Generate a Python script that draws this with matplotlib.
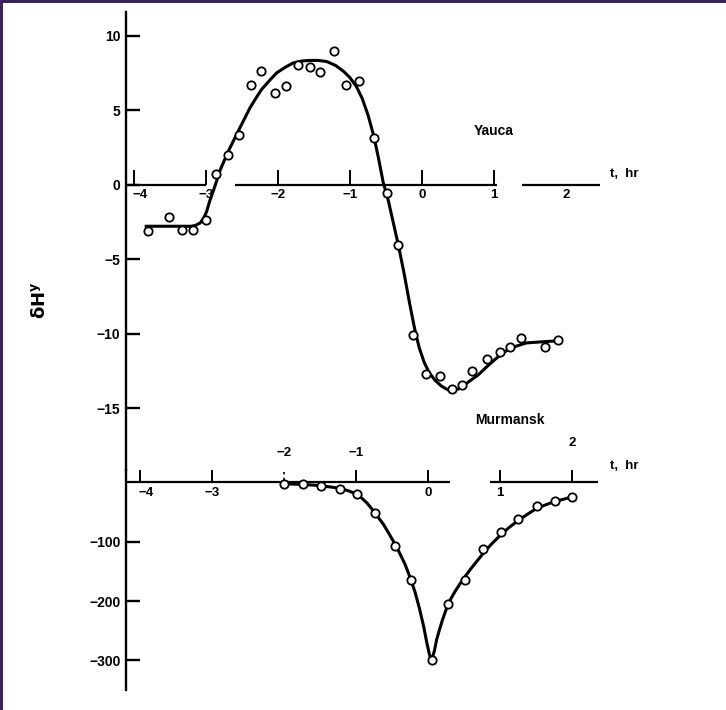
import matplotlib.pyplot as plt
from matplotlib.patches import Rectangle

W, H = 726, 710

# Yauca: observed points and drawn curve (t in hours, dH in gamma)
yauca_t = [-3.80, -3.51, -3.34, -3.18, -3.00, -2.86, -2.69, -2.54, -2.37, -2.23, -2.04,
           -1.89, -1.72, -1.56, -1.42, -1.22, -1.05, -0.88, -0.67, -0.49, -0.33, -0.13,
           0.06, 0.25, 0.41, 0.55, 0.69, 0.90, 1.08, 1.22, 1.38, 1.71, 1.89]
yauca_v = [-3.07, -2.17, -3.0, -3.0, -2.33, 0.74, 2.03, 3.38, 6.69, 7.67, 6.17,
           6.62, 8.07, 7.9, 7.58, 9.01, 6.73, 6.96, 3.13, -0.54, -4.0, -10.1,
           -12.7, -12.8, -13.7, -13.4, -12.5, -11.7, -11.2, -10.9, -10.3, -10.9, -10.4]
yauca_curve_t = [-3.83, -3.21, -3.15, -3.08, -3.03, -2.99, -2.95, -2.90, -2.85, -2.81, -2.75,
                 -2.69, -2.61, -2.53, -2.46, -2.39, -2.31, -2.23, -2.12, -2.02, -1.90, -1.79,
                 -1.67, -1.56, -1.44, -1.32, -1.20, -1.09, -1.00, -0.91, -0.83, -0.75, -0.67,
                 -0.60, -0.54, -0.47, -0.40, -0.33, -0.25, -0.17, -0.10, -0.04, 0.03, 0.10,
                 0.18, 0.27, 0.36, 0.45, 0.55, 0.65, 0.78, 0.90, 1.04, 1.18, 1.32, 1.45,
                 1.60, 1.75, 1.92]
yauca_curve_v = [-2.77, -2.77, -2.72, -2.55, -2.2, -1.77, -1.1, -0.42, 0.3, 0.92, 1.6,
                 2.26, 3.05, 3.83, 4.5, 5.17, 5.8, 6.4, 7.0, 7.52, 7.9, 8.19,
                 8.32, 8.36, 8.36, 8.28, 8.02, 7.63, 7.2, 6.6, 5.8, 4.7, 3.3,
                 1.7, 0.2, -1.0, -2.5, -4.0, -5.9, -8.0, -9.7, -10.9, -11.9, -12.6,
                 -13.1, -13.5, -13.75, -13.8, -13.6, -13.2, -12.75, -12.2, -11.6, -11.1, -10.8, -10.6,
                 -10.55, -10.5, -10.45]

# Murmansk
murm_t = [-2.0, -1.73, -1.48, -1.22, -0.99, -0.74, -0.46, -0.23, 0.05, 0.28, 0.51,
          0.77, 1.02, 1.25, 1.51, 1.76, 2.0]
murm_v = [-3, -4, -6, -12, -20, -52, -108, -165, -300, -205, -165,
          -112, -84, -62, -40, -32, -25]
murm_curve_t = [-2.0, -1.75, -1.5, -1.25, -1.1, -1.0, -0.92, -0.85, -0.78, -0.7, -0.62,
                -0.55, -0.47, -0.4, -0.32, -0.25, -0.18, -0.12, -0.06, -0.02, 0.02, 0.05,
                0.09, 0.12, 0.16, 0.2, 0.25, 0.3, 0.37, 0.45, 0.52, 0.6, 0.7, 0.8, 0.9,
                1.0, 1.12, 1.25, 1.37, 1.5, 1.62, 1.75, 1.88, 2.0]
murm_curve_v = [-3, -4, -6, -10, -15, -20, -27, -35, -45, -58, -71,
                -85, -102, -118, -138, -160, -185, -212, -243, -268, -290, -300,
                -283, -265, -248, -232, -215, -200, -185, -170, -158, -145, -130, -115, -102,
                -90, -77, -65, -55, -45, -39, -33, -29, -25]

yauca_yticks = [10, 5, 0, -5, -10, -15]
murm_yticks = [-100, -200, -300]

FONT = ["Liberation Sans", "DejaVu Sans"]
plt.rcParams["font.family"] = FONT
plt.rcParams["font.weight"] = "bold"


def box(x0, y0, x1, y1):
    # pixel box (top-left origin) -> figure fraction rect
    return [x0 / W, 1 - y1 / H, (x1 - x0) / W, (y1 - y0) / H]


def minus(v):
    return str(v) if v >= 0 else "\u2212" + str(-v)


fig = plt.figure(figsize=(W / 100, H / 100), dpi=100)
fig.patch.set_facecolor("#3a2163")
fig.patches.append(Rectangle((3 / W, 0), 1, 1 - 3 / H, transform=fig.transFigure,
                             facecolor="white", edgecolor="none", zorder=-10))

ax1 = fig.add_axes(box(126, 12, 602, 470))
ax2 = fig.add_axes(box(126, 470, 605, 690))
ax1.set_xlim(-4.111, 2.5)
ax1.set_ylim(-19.13, 11.61)
ax2.set_xlim(-4.194, 2.458)
ax2.set_ylim(-349.6, 20.2)

for ax in (ax1, ax2):
    ax.patch.set_visible(False)
    for s in ("top", "right", "bottom"):
        ax.spines[s].set_visible(False)
    ax.spines["left"].set_linewidth(1.7)
    ax.set_xticks([])
    ax.tick_params(axis="y", direction="in", length=10, width=1.7, pad=4, labelsize=10)

ax1.set_yticks(yauca_yticks)
ax1.set_yticklabels([minus(v) for v in yauca_yticks])
ax2.set_yticks(murm_yticks)
ax2.set_yticklabels([minus(v) for v in murm_yticks])

# broken time axes with upward ticks
for a, b in [(-4.111, -3.0), (-2.6, 1.04), (1.39, 2.47)]:
    ax1.plot([a, b], [0, 0], color="black", lw=1.6, solid_capstyle="butt")
for a, b in [(-4.194, 0.3), (0.86, 2.36)]:
    ax2.plot([a, b], [0, 0], color="black", lw=1.6, solid_capstyle="butt")
ax1.vlines([-4, -3, -2, -1, 0, 1], 0, 1.0, color="black", lw=1.4)
ax2.vlines([-4, -3, -1, 0, 1, 2], 0, 25, color="black", lw=1.4)
ax2.vlines([-2], 2, 16, color="black", lw=1.2, linestyles=(0, (2, 2)))

tick_kw = dict(fontsize=9.5, ha="center", clip_on=False)
for t in [-4, -3, -2, -1, 0, 1, 2]:
    ax1.text(t + (0.08 if t == -4 else 0), -0.3, minus(t), va="top", **tick_kw)
for t in [-4, -3, 0, 1]:
    ax2.text(t + (0.08 if t == -4 else 0), -9, minus(t), va="top", **tick_kw)
ax2.text(-2, 38, minus(-2), va="bottom", **tick_kw)
ax2.text(-1, 38, minus(-1), va="bottom", **tick_kw)
ax2.text(2, 55, "2", va="bottom", **tick_kw)

ax1.text(2.61, 0.74, "t,  hr", fontsize=9.5, va="center", ha="left", clip_on=False)
ax2.text(2.53, 27, "t,  hr", fontsize=9.5, va="center", ha="left", clip_on=False)
ax1.text(1.0, 3.62, "Yauca", fontsize=10, ha="center", va="center")
ax2.text(1.14, 104, "Murmansk", fontsize=10, ha="center", va="center", clip_on=False)

ax1.plot(yauca_curve_t, yauca_curve_v, color="black", lw=2.2, zorder=3)
ax1.plot(yauca_t, yauca_v, "o", ms=6, mfc="white", mec="black", mew=1.3, zorder=4)
ax2.plot(murm_curve_t, murm_curve_v, color="black", lw=2.2, zorder=3)
ax2.plot(murm_t, murm_v, "o", ms=6, mfc="white", mec="black", mew=1.3, zorder=4)

fig.text(40 / W, 1 - 300 / H, r"$\mathbf{\delta H^{y}}$", rotation=90, fontsize=13,
         ha="center", va="center")

fig.savefig("out.png", dpi=100, facecolor=fig.get_facecolor())
